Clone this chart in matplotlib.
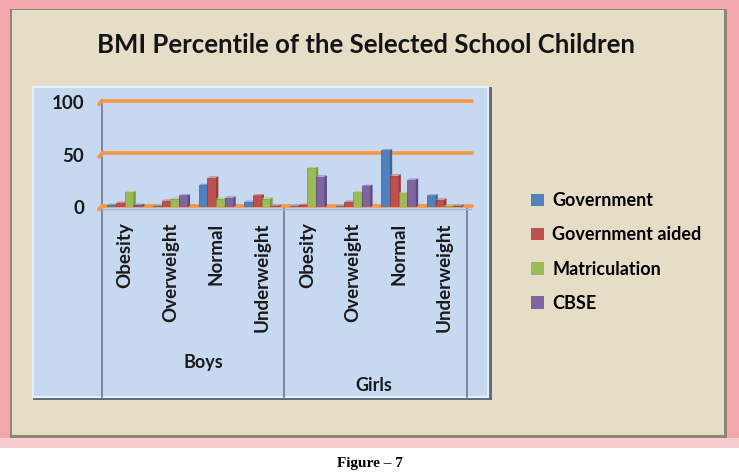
import numpy as np
import matplotlib.pyplot as plt
from matplotlib.patches import Rectangle, Polygon
from matplotlib.lines import Line2D

# data
categories = ["Obesity", "Overweight", "Normal", "Underweight",
              "Obesity", "Overweight", "Normal", "Underweight"]
groups = ["Boys", "Girls"]
series = ["Government", "Government aided", "Matriculation", "CBSE"]
government = [2, 1, 21, 5, 1, 1, 54, 11]
government_aided = [4, 6, 28, 11, 2, 5, 30, 7]
matriculation = [14, 8, 8, 8, 37, 14, 13, 1]
cbse = [2, 11, 9, 1, 29, 20, 26, 1]
yticks = [0, 50, 100]

colors = ["#4F81BD", "#C0504D", "#9BBB59", "#8064A2"]
dark = ["#3A6496", "#953B39", "#789A3F", "#5F4A80"]
light = ["#7FA4D3", "#D57B78", "#B9D184", "#A08BC2"]

W, H = 739, 472
fig = plt.figure(figsize=(W / 100, H / 100), dpi=100)
fig.patch.set_facecolor("white")


def fx(x):
    return x / W


def fy(y):
    return 1 - y / H


def rect(x0, y0, x1, y1, **kw):
    fig.add_artist(Rectangle((fx(x0), fy(y1)), fx(x1) - fx(x0), fy(y0) - fy(y1),
                             transform=fig.transFigure, zorder=-2, **kw))


# frame: pink border, beige panel, light blue plot area
rect(0, 0, 739, 442, facecolor="#F3A9AC", edgecolor="none")
rect(0, 438, 739, 448, facecolor="#F8CDD0", edgecolor="none")
rect(10, 9, 727, 438, facecolor="#8C8677", edgecolor="none")
rect(12, 10, 724, 435, facecolor="#E6DDC7", edgecolor="none")
rect(33, 87, 492, 400, facecolor="#5E6E80", edgecolor="none")
rect(33, 87, 488, 397, facecolor="#C6D9F1", edgecolor="#E6EEF8", linewidth=1.5)

# axis and group divider lines
for xv in [-0.5, 3.5, 7.5]:
    top = 102 if xv == -0.5 else 207
    fig.add_artist(Line2D([fx(102 + (xv + 0.5) * 45.6)] * 2, [fy(top), fy(397)],
                          color="#6A7B8F", lw=1.2, transform=fig.transFigure,
                          zorder=-1))
fig.add_artist(Line2D([fx(102), fx(471)], [fy(209), fy(209)],
                      color="#A9B6C4", lw=1.0, transform=fig.transFigure,
                      zorder=-1))

# bars axes: 0 at y=207 px, 100 at y=102 px
ax = fig.add_axes([fx(102), fy(207), fx(467) - fx(102), fy(97) - fy(207)])
ax.set_zorder(2)
ax.set_facecolor("none")
ax.set_xlim(-0.5, len(categories) - 0.5)
ax.set_ylim(0, 100 * 110 / 105)
for s in ax.spines.values():
    s.set_visible(False)

for y in yticks:
    ax.plot([-0.5, 7.6], [y + 1, y + 1], color="#F79646", lw=2.6,
            solid_capstyle="round", zorder=1, clip_on=False)
    ax.plot([-0.56, -0.5], [y - 2, y + 1], color="#F79646", lw=2.6,
            zorder=1, clip_on=False)

x = np.arange(len(categories))
bw = 0.19
dx, dy = 0.05, 1.2
data = [government, government_aided, matriculation, cbse]
for i, vals in enumerate(data):
    xs = x + (i - 1.5) * bw
    ax.bar(xs, vals, width=bw, color=colors[i], edgecolor=dark[i],
           linewidth=0.5, label=series[i], zorder=3)
    for xc, v in zip(xs, vals):
        l, r = xc - bw / 2, xc + bw / 2
        ax.add_patch(Polygon([(l, v), (l + dx, v + dy), (r + dx, v + dy), (r, v)],
                             closed=True, facecolor=light[i], edgecolor="none",
                             zorder=3, clip_on=False))
        ax.add_patch(Polygon([(r, 0), (r + dx, dy), (r + dx, v + dy), (r, v)],
                             closed=True, facecolor=dark[i], edgecolor="none",
                             zorder=3, clip_on=False))

ax.set_xticks([])
ax.set_yticks(yticks)
ax.set_yticklabels([str(t) for t in yticks], fontsize=13.5, fontweight="bold",
                   family="Lato", color="#1A1A1A")
ax.tick_params(axis="y", length=0, pad=13)

# category labels and group labels
tr = ax.get_xaxis_transform()
for xi, c in zip(x, categories):
    ax.text(xi, -0.14, c, rotation=90, ha="center", va="top", fontsize=13.5,
            fontweight="bold", family="Lato", color="#1A1A1A", transform=tr)
ax.text(1.72, -1.41, groups[0], ha="center", va="center", fontsize=13,
        fontweight="bold", family="Lato", color="#1A1A1A", transform=tr)
ax.text(5.45, -1.62, groups[1], ha="center", va="center", fontsize=13,
        fontweight="bold", family="Lato", color="#1A1A1A", transform=tr)

# title
fig.text(fx(366), fy(45), "BMI Percentile of the Selected School Children",
         ha="center", va="center", fontsize=18.5, fontweight="bold",
         family="Lato", color="#141414")

# legend
handles = [Rectangle((0, 0), 1, 1, facecolor=c, edgecolor="none") for c in colors]
fig.legend(handles, series, loc="upper left", bbox_to_anchor=(fx(515), fy(176)),
           frameon=False, prop={"family": "Lato", "weight": "bold", "size": 13},
           labelspacing=0.95, handlelength=0.7, handleheight=0.7,
           handletextpad=0.45)

fig.text(fx(370), fy(470), "Figure \u2013 7", ha="center", va="bottom",
         fontsize=11, fontweight="bold", family="Liberation Serif")

fig.savefig("out.png", dpi=100)
